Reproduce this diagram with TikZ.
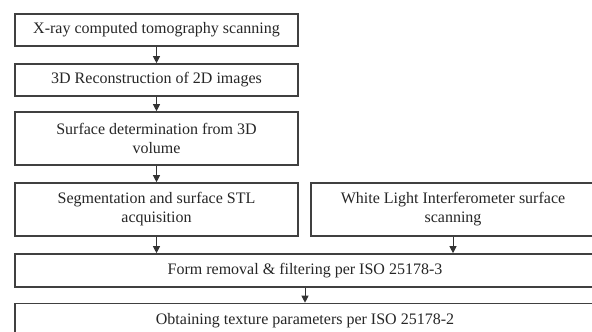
\documentclass[tikz,border=0pt]{standalone}
\usepackage{fontspec}
\setmainfont{Liberation Serif}
\usetikzlibrary{arrows.meta}
\tikzset{font={\fontsize{8pt}{9.5pt}\selectfont}}
\tikzset{stepbox/.style={draw=black!75, line width=0.8pt, fill=white, align=center, inner sep=0pt, text=black!85}}
\tikzset{flow/.style={draw=black!80, line width=0.5pt, -{Triangle[length=3.5pt,width=3.5pt]}}}

\begin{document}
\begin{tikzpicture}[x=0.5pt,y=-0.5pt]
      \useasboundingbox (0,0) rectangle (592,331);
      \clip (0,0) rectangle (592,331);
      %left column
      \node[stepbox, minimum width=141.5pt, minimum height=16pt] (scan) at (156.5,30) {X-ray computed tomography scanning};
      \node[stepbox, minimum width=141.5pt, minimum height=16pt] (recon) at (156.5,80) {3D Reconstruction of 2D images};
      \node[stepbox, minimum width=141.5pt, minimum height=26.5pt] (surf) at (156.5,138.5) {Surface determination from 3D\\volume};
      \node[stepbox, minimum width=141.5pt, minimum height=26.5pt] (seg) at (156.5,209.5) {Segmentation and surface STL\\acquisition};
      %right column
      \node[stepbox, minimum width=142pt, minimum height=26.5pt] (wli) at (453,209.5) {White Light Interferometer surface\\scanning};
      %full width
      \node[stepbox, minimum width=290pt, minimum height=16.5pt] (form) at (305,270.5) {Form removal \& filtering per ISO 25178-3};
      \node[stepbox, minimum width=290pt, minimum height=17pt] (tex) at (305,320.5) {Obtaining texture parameters per ISO 25178-2};
      %arrows
      \draw[flow] (scan) -- (recon);
      \draw[flow] (recon) -- (surf);
      \draw[flow] (surf) -- (seg);
      \draw[flow] (seg.south) -- (seg.south |- form.north);
      \draw[flow] (wli.south) -- (wli.south |- form.north);
      \draw[flow] (form) -- (tex);
\end{tikzpicture}
\end{document}
